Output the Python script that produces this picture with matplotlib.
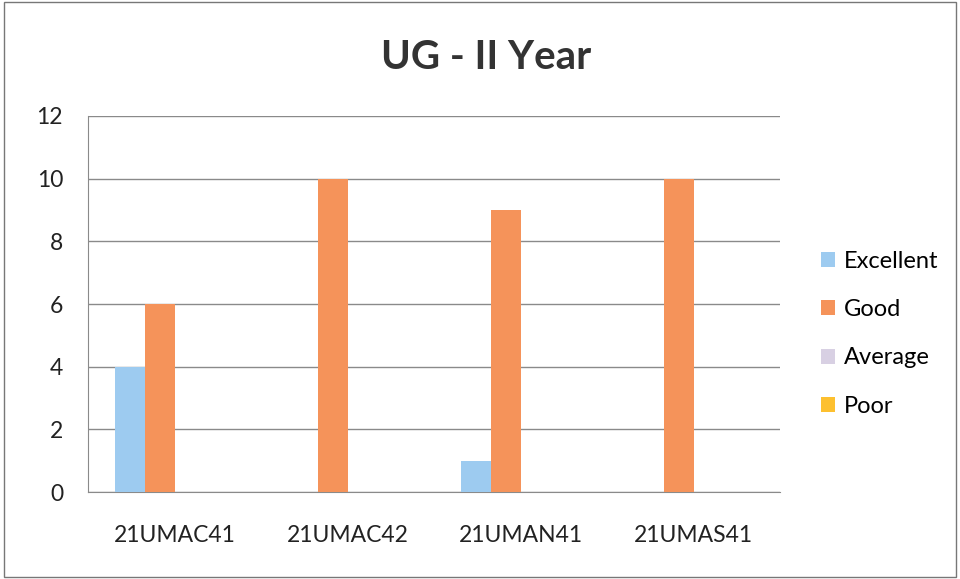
import matplotlib
matplotlib.use("Agg")
import matplotlib.pyplot as plt
import numpy as np
from matplotlib.patches import Rectangle

categories = ["21UMAC41", "21UMAC42", "21UMAN41", "21UMAS41"]
excellent = [4, 0, 1, 0]
good = [6, 10, 9, 10]
average = [0, 0, 0, 0]
poor = [0, 0, 0, 0]
series_names = ["Excellent", "Good", "Average", "Poor"]
colors = ["#9DCBF0", "#F5935A", "#D8D0E3", "#FDC02F"]

plt.rcParams['font.family'] = ['Lato', 'DejaVu Sans']

fig = plt.figure(figsize=(9.6, 5.79), dpi=100)
ax = fig.add_axes([0.0917, 0.150, 0.7208, 0.6497])

x = np.arange(len(categories))
w = 0.173
series = [excellent, good, average, poor]
for i, (vals, name, c) in enumerate(zip(series, series_names, colors)):
    ax.bar(x + (i - 1.5) * w, vals, width=w, color=c, label=name, zorder=3)

ax.set_xlim(-0.5, len(categories) - 0.5)
ax.set_ylim(0, 12)
ax.set_yticks(range(0, 13, 2))
ax.set_xticks(x)
ax.set_xticklabels(categories)
ax.tick_params(axis='both', length=0, labelsize=16.5, colors='#222222')
ax.tick_params(axis='x', pad=24)
ax.tick_params(axis='y', pad=18)
ax.grid(axis='y', color='#8a8a8a', linewidth=1, zorder=0)
for s in ['top', 'right']:
    ax.spines[s].set_visible(False)
ax.spines['left'].set_color('#8a8a8a')
ax.spines['bottom'].set_color('#8a8a8a')

fig.suptitle("UG - II Year", x=0.506, y=0.933, fontsize=29, fontweight='bold', color='#333333')

leg = ax.legend(loc='upper left', bbox_to_anchor=(1.045, 0.666), frameon=False,
                fontsize=17, labelspacing=1.15, handlelength=0.6, handleheight=0.6,
                handletextpad=0.4, borderaxespad=0)

fig.patches.append(Rectangle((0.004, 0.004), 0.992, 0.992, transform=fig.transFigure,
                             fill=False, edgecolor='#777777', linewidth=1))

fig.savefig("out.png", dpi=100)
